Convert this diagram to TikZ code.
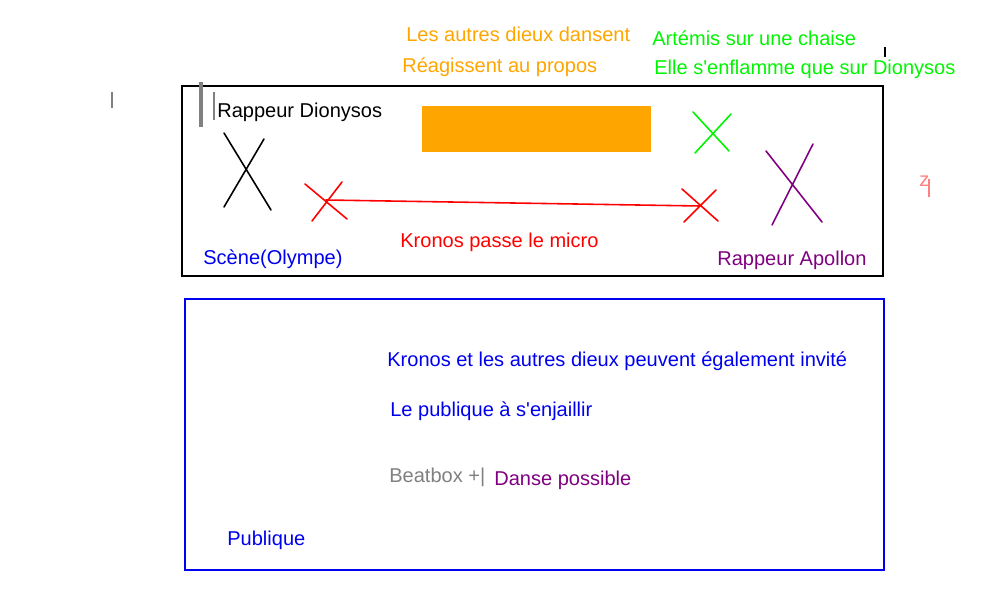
\documentclass[tikz,border=0pt]{standalone}
\usepackage{fontspec}
\setmainfont{Liberation Sans}[Ligatures=TeXOff]
\definecolor{dorange}{RGB}{255,165,0}
\definecolor{dgreen}{RGB}{0,245,0}
\definecolor{dblue}{RGB}{0,0,240}
\definecolor{dpurple}{RGB}{128,0,128}
\definecolor{dred}{RGB}{255,0,0}
\definecolor{dpink}{RGB}{255,128,128}
\definecolor{dgray}{RGB}{128,128,128}
\tikzset{
  lbl/.style={anchor=base west,inner sep=0pt,font=\fontsize{11.4}{13}\selectfont},
  frame/.style={line width=1.1pt},
  stroke/.style={line width=0.9pt,line cap=round},
}
\begin{document}
\begin{tikzpicture}[x=0.02cm,y=-0.02cm]
\useasboundingbox (0,0) rectangle (1000,598);
% scene and audience frames
\draw[frame,black] (182,86) rectangle (883,276);
\draw[frame,dblue] (185,299) rectangle (884,570);
\fill[dorange] (422,106) rectangle (651,152);
% top notes
\node[lbl,dorange] (danse) at (406,42) {Les autres dieux dansent};
\node[lbl,dorange] (propos) at (402,72) {Réagissent au propos};
\node[lbl,dgreen] (artemis) at (652,46) {Artémis sur une chaise};
\node[lbl,dgreen] (flamme) at (654,74) {Elle s'enflamme que sur Dionysos};
% scene labels
\node[lbl,black] (dionysos) at (217,117) {Rappeur Dionysos};
\node[lbl,dblue] (scene) at (203,264) {Scène(Olympe)};
\node[lbl,dred] (micro) at (400,247) {Kronos passe le micro};
\node[lbl,dpurple] (apollon) at (717,265) {Rappeur Apollon};
% audience labels
\node[lbl,dblue] (invite) at (387,366) {Kronos et les autres dieux peuvent également invité};
\node[lbl,dblue] (enjaillir) at (390,416) {Le publique à s'enjaillir};
\node[lbl,dgray] (beatbox) at (389,482) {Beatbox +|};
\node[lbl,dpink] (zed) at (919,186) {z};
% stray marks
\draw[dpink,line width=0.6pt] (929,179) -- (929,197);
\draw[dgray,line width=0.6pt] (112,92) -- (112,108);
\draw[dgray,line width=2pt] (201,82) -- (201,127);
\draw[dgray,line width=0.6pt] (214,92) -- (214,120);
\draw[black,line width=0.6pt] (885,47) -- (885,57);
\node[lbl,dpurple] (possible) at (494,485) {Danse possible};
\node[lbl,dblue] (publique) at (227,545) {Publique};
% performers (crosses)
\draw[stroke,black] (224,133) -- (271,210) (264,139) -- (224,207);
\draw[stroke,dgreen] (693,112) -- (729,151) (731,114) -- (695,153);
\draw[stroke,dpurple] (766,151) -- (822,222) (813,144) -- (772,225);
\coordinate (kL) at (326,200);
\coordinate (kR) at (700,206);
\draw[stroke,dred] (305,184) -- (347,219) (342,182) -- (312,221);
\draw[stroke,dred] (682,189) -- (718,221) (716,190) -- (684,222);
\draw[stroke,dred] (kL) -- (kR);
\end{tikzpicture}
\end{document}
